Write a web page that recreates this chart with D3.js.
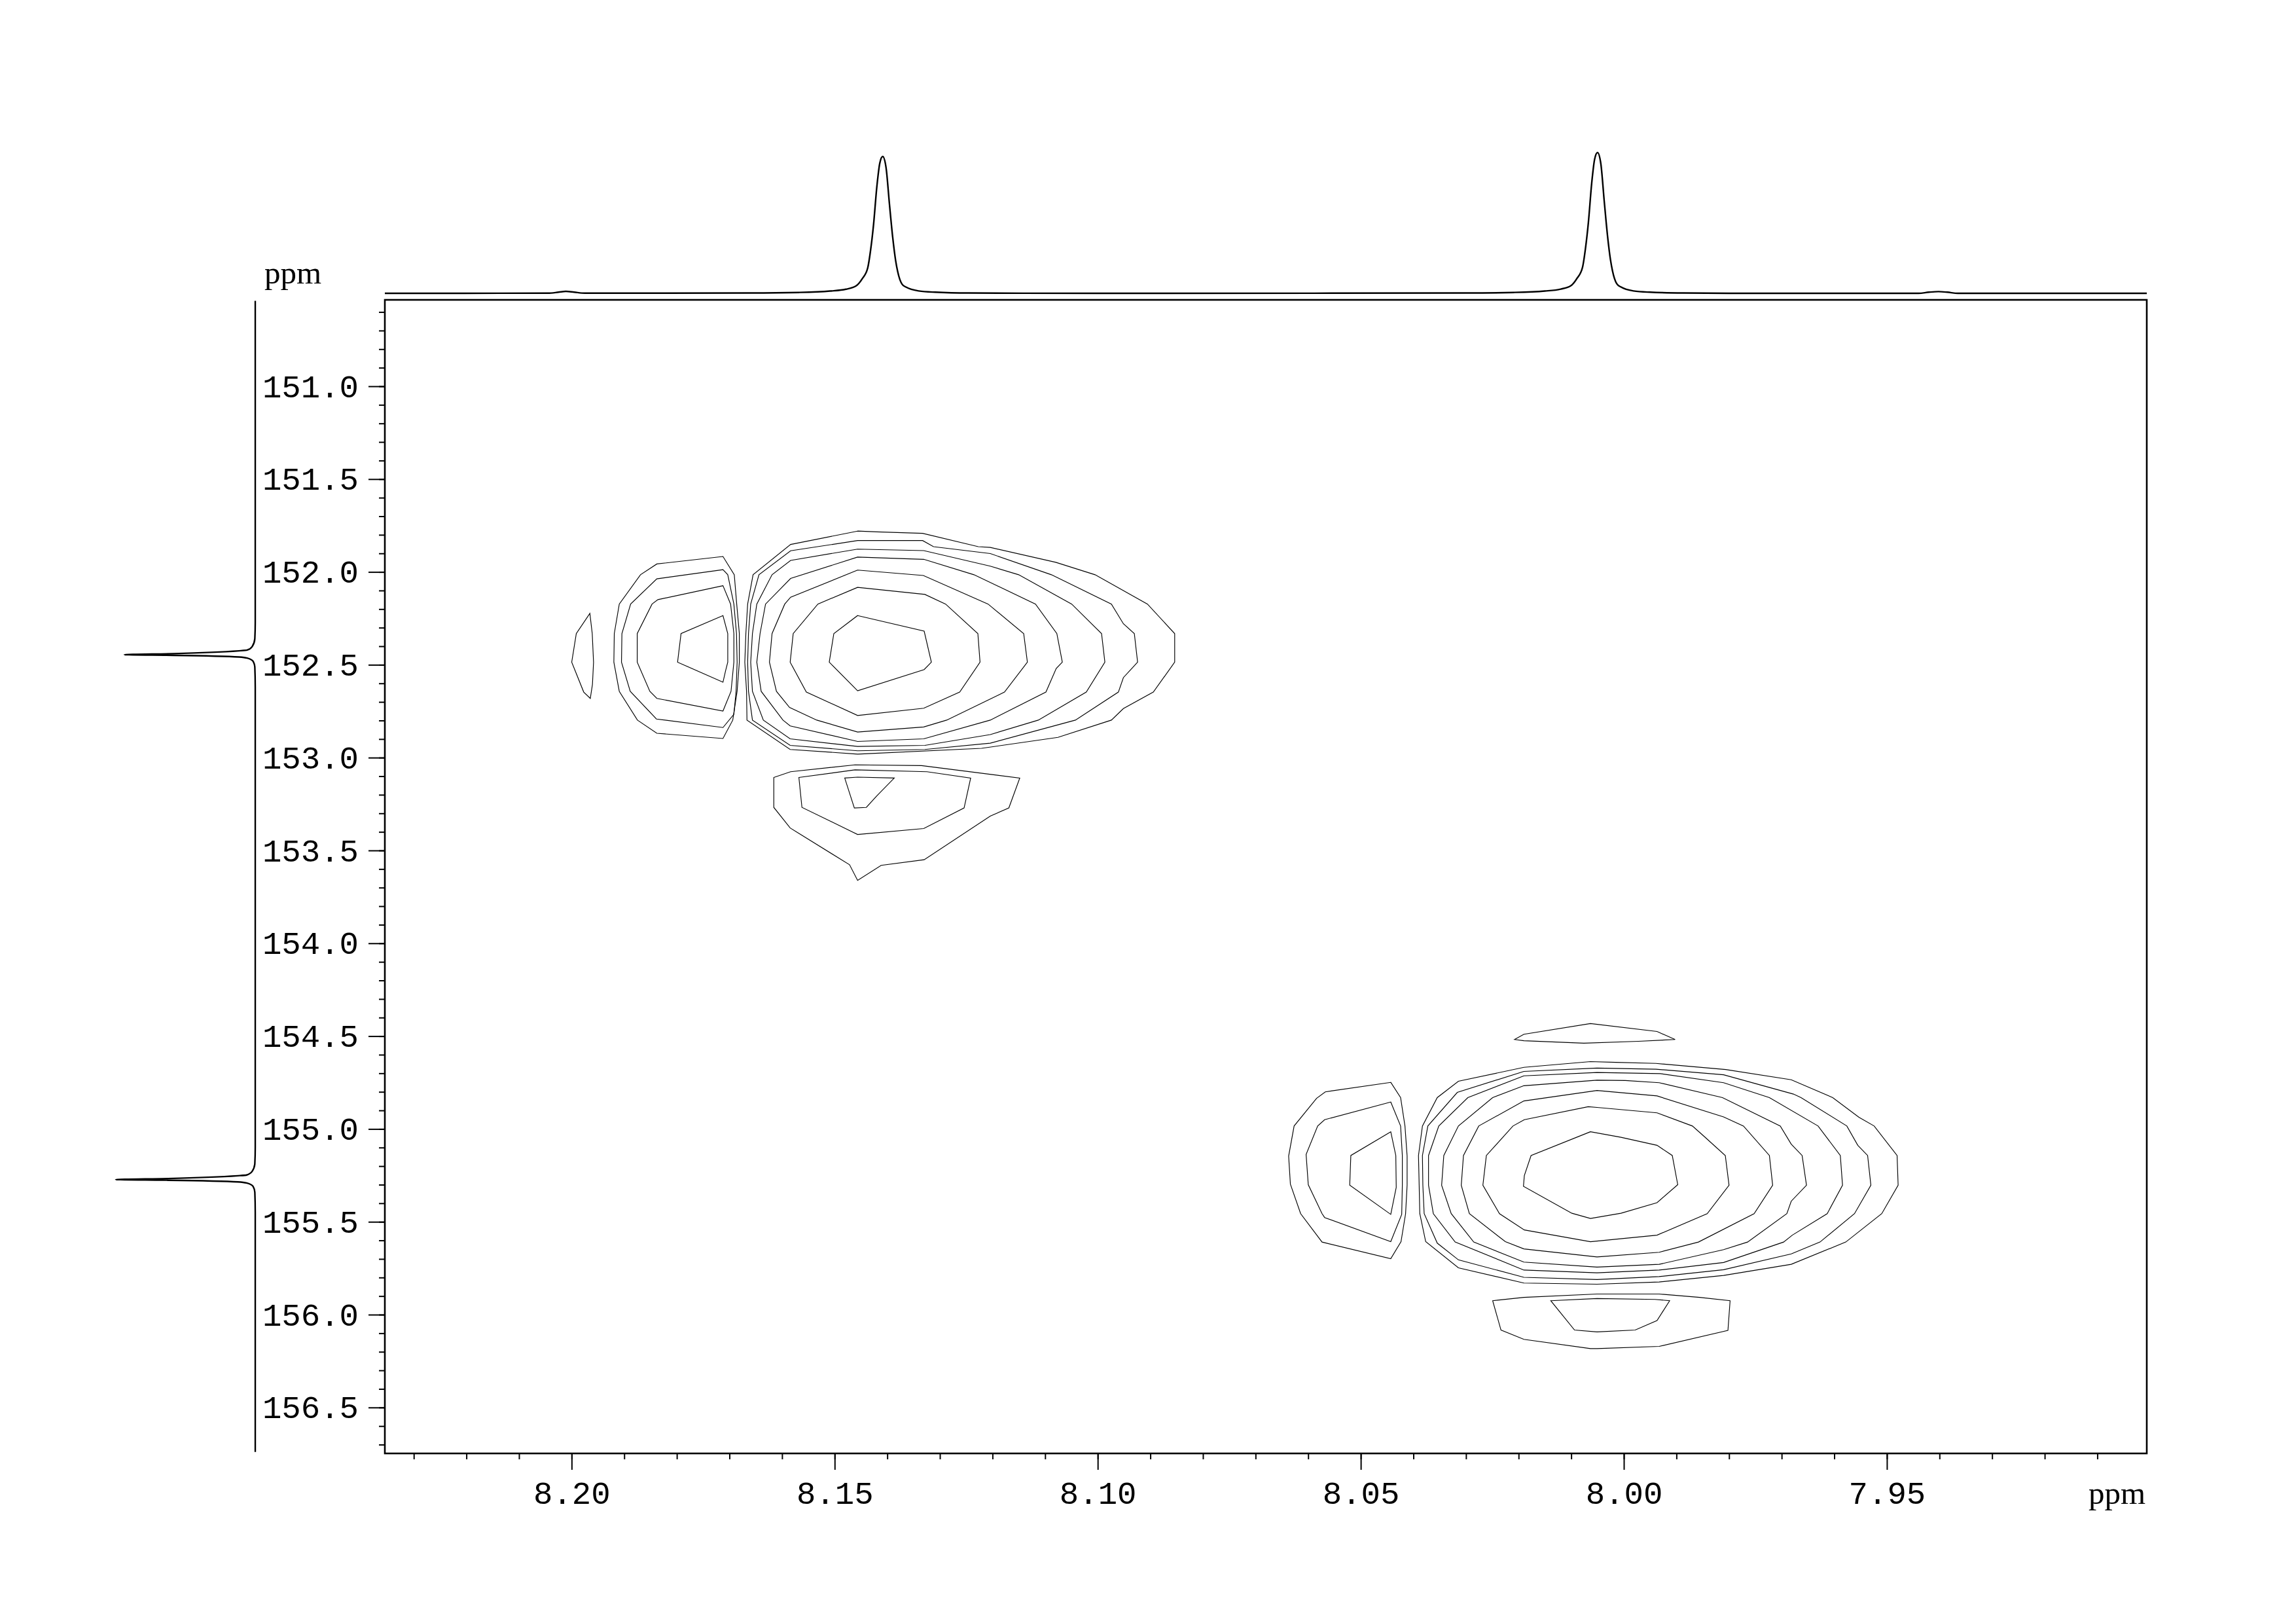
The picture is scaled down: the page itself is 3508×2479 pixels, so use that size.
<!DOCTYPE html>
<html><head><meta charset="utf-8">
<script src="https://cdn.jsdelivr.net/npm/d3@7"></script>
<style>html,body{margin:0;padding:0;background:#fff}</style>
</head><body>
<svg id="chart" width="3508" height="2479" xmlns="http://www.w3.org/2000/svg"></svg>
<script>
// ---------------- DATA ----------------
const xDomain = [8.2355, 7.9006];           // F2 (1H) ppm, reversed
const yDomain = [150.5346, 156.7475];       // F1 (13C) ppm
const xMajorTicks = [8.20, 8.15, 8.10, 8.05, 8.00, 7.95];
const xTickLabels = ["8.20", "8.15", "8.10", "8.05", "8.00", "7.95"];
const yMajorTicks = [151.0, 151.5, 152.0, 152.5, 153.0, 153.5, 154.0, 154.5, 155.0, 155.5, 156.0, 156.5];
const yTickLabels = ["151.0", "151.5", "152.0", "152.5", "153.0", "153.5", "154.0", "154.5", "155.0", "155.5", "156.0", "156.5"];
const xMinorTicks = d3.range(823, 790, -1).map(v => v / 100);
const yMinorTicks = d3.range(1506, 1568).map(v => v / 10);
const axisUnit = "ppm";

// 1D projection on top: [ppm, relative intensity]
const topTrace = [
  [8.2355, 0], [8.2045, 0.1], [8.2025, 0.8], [8.2011, 1.4], [8.1995, 0.8], [8.1975, 0.1],
  [8.16587, 0.2], [8.15687, 0.6], [8.15087, 1.6], [8.14787, 2.9], [8.14595, 5.2], [8.14475, 10.4],
  [8.14372, 18.0], [8.14317, 30.7], [8.14261, 48.8], [8.14198, 75.9], [8.14142, 92.5], [8.14087, 97.2],
  [8.14024, 89.5], [8.13960, 63.9], [8.13897, 39.8], [8.13841, 23.2], [8.13803, 15.6], [8.13721, 6.6],
  [8.13643, 4.4], [8.13404, 1.7], [8.13087, 0.8], [8.12455, 0.2], [8.1000, 0],
  [8.0300, 0.2], [8.0210, 0.6], [8.0150, 1.6], [8.0120, 3.0], [8.01008, 5.3], [8.00888, 10.7],
  [8.00785, 18.5], [8.00730, 31.6], [8.00674, 50.2], [8.00611, 78.1], [8.00555, 95.2], [8.00500, 100],
  [8.00437, 92.1], [8.00373, 65.7], [8.00310, 40.9], [8.00254, 23.9], [8.00216, 16.1], [8.00134, 6.8],
  [8.00056, 4.5], [7.99817, 1.7], [7.99500, 0.8], [7.98868, 0.2], [7.9800, 0],
  [7.9440, 0], [7.9420, 0.8], [7.9402, 1.2], [7.9385, 0.8], [7.9365, 0], [7.9006, 0]
];

// 1D projection on the left: [ppm, relative intensity]
const leftTrace = [
  [150.54, 0], [152.272, 0], [152.359, 0.3], [152.402, 2.2], [152.421, 5.8], [152.425, 11.7],
  [152.440, 58.6], [152.446, 93.8], [152.449, 58.6], [152.458, 11.7], [152.464, 5.8], [152.483, 1.4],
  [152.514, 0.3], [152.62, 0],
  [155.099, 0], [155.186, 0.3], [155.229, 2.3], [155.248, 6.2], [155.252, 12.5], [155.267, 62.5],
  [155.273, 100], [155.276, 62.5], [155.285, 12.5], [155.291, 6.2], [155.310, 1.5], [155.341, 0.3],
  [155.45, 0], [156.74, 0]
];

// contour polygons of cross peak near (8.14, 152.4): [F2 ppm, F1 ppm]
const peak1Contours = [
  [[8.19653,152.223],[8.19911,152.332],[8.19998,152.486],[8.19770,152.647],[8.19645,152.681],[8.19604,152.606],[8.19583,152.486],[8.19608,152.332]],
  [[8.17123,151.917],[8.18380,151.957],[8.18691,152.015],[8.19094,152.173],[8.19189,152.332],[8.19197,152.486],[8.19094,152.643],[8.18749,152.798],[8.18380,152.869],[8.17123,152.897],[8.16937,152.798],[8.16854,152.643],[8.16812,152.486],[8.16812,152.332],[8.16862,152.173],[8.16908,152.015]],
  [[8.17123,151.988],[8.18380,152.037],[8.18878,152.173],[8.19044,152.332],[8.19052,152.486],[8.18886,152.643],[8.18388,152.792],[8.17123,152.838],[8.16916,152.767],[8.16874,152.643],[8.16854,152.486],[8.16866,152.332],[8.16916,152.173],[8.17032,152.015]],
  [[8.17123,152.074],[8.18359,152.149],[8.18471,152.173],[8.18753,152.332],[8.18753,152.486],[8.18513,152.643],[8.18380,152.681],[8.17123,152.749],[8.16970,152.643],[8.16916,152.486],[8.16916,152.332],[8.16978,152.173]],
  [[8.17123,152.235],[8.17920,152.332],[8.17986,152.486],[8.17123,152.594],[8.17073,152.532],[8.17032,152.486],[8.17032,152.332]],
  [[8.14564,151.780],[8.15837,151.852],[8.16551,152.015],[8.16654,152.173],[8.16688,152.332],[8.16708,152.486],[8.16675,152.643],[8.16667,152.798],[8.15846,152.956],[8.14564,152.981],[8.12208,152.950],[8.10756,152.891],[8.09740,152.798],[8.09512,152.736],[8.08943,152.647],[8.08537,152.486],[8.08537,152.332],[8.09055,152.173],[8.10051,152.015],[8.10798,151.948],[8.12042,151.868],[8.12270,151.864],[8.13328,151.792],[8.14199,151.784]],
  [[8.14564,151.831],[8.15837,151.886],[8.16439,152.015],[8.16596,152.173],[8.16638,152.332],[8.16654,152.486],[8.16638,152.643],[8.16563,152.798],[8.15846,152.934],[8.14564,152.963],[8.13286,152.956],[8.12042,152.922],[8.10424,152.798],[8.09607,152.647],[8.09512,152.569],[8.09242,152.486],[8.09304,152.332],[8.09512,152.279],[8.09740,152.173],[8.10881,152.015],[8.12042,151.901],[8.13121,151.864],[8.13328,151.831]],
  [[8.14564,151.877],[8.15837,151.938],[8.16190,152.015],[8.16480,152.173],[8.16563,152.332],[8.16596,152.486],[8.16563,152.643],[8.16356,152.798],[8.15846,152.899],[8.14564,152.940],[8.13286,152.934],[8.12042,152.876],[8.11129,152.798],[8.10217,152.647],[8.09864,152.486],[8.09927,152.332],[8.10495,152.173],[8.11503,152.015],[8.12042,151.969],[8.13307,151.885]],
  [[8.14564,151.920],[8.15837,152.035],[8.16314,152.173],[8.16418,152.332],[8.16480,152.486],[8.16397,152.643],[8.15983,152.798],[8.15846,152.829],[8.14564,152.913],[8.13307,152.899],[8.12042,152.798],[8.10984,152.647],[8.10789,152.520],[8.10673,152.486],[8.10777,152.332],[8.11183,152.173],[8.12353,152.015],[8.13307,151.932]],
  [[8.14564,151.990],[8.15837,152.136],[8.15949,152.173],[8.16190,152.332],[8.16240,152.486],[8.16107,152.643],[8.15858,152.730],[8.15340,152.798],[8.14564,152.862],[8.13307,152.835],[8.12871,152.798],[8.11772,152.647],[8.11337,152.486],[8.11407,152.332],[8.12084,152.173],[8.13315,152.019]],
  [[8.14564,152.083],[8.15319,152.173],[8.15788,152.332],[8.15846,152.486],[8.15539,152.647],[8.14564,152.773],[8.13307,152.734],[8.12623,152.647],[8.12237,152.486],[8.12278,152.332],[8.12892,152.173],[8.13286,152.121]],
  [[8.14564,152.235],[8.13299,152.319],[8.13162,152.486],[8.13299,152.526],[8.14564,152.640],[8.15103,152.486],[8.15016,152.332]],
  [[8.16157,153.107],[8.15837,153.076],[8.14614,153.039],[8.13349,153.043],[8.11482,153.110],[8.11689,153.271],[8.12042,153.315],[8.13299,153.550],[8.14116,153.580],[8.14564,153.661],[8.14717,153.577],[8.15846,153.379],[8.16157,153.268]],
  [[8.15680,153.107],[8.14614,153.066],[8.13245,153.076],[8.12415,153.110],[8.12540,153.271],[8.13307,153.382],[8.14564,153.414],[8.15622,153.268]],
  [[8.14809,153.110],[8.14564,153.105],[8.13867,153.110],[8.14199,153.206],[8.14398,153.268],[8.14626,153.271]]
];

// contour polygons of cross peak near (8.005, 155.25)
const peak2Contours = [
  [[8.02078,154.518],[8.01899,154.490],[8.00634,154.432],[7.99369,154.475],[7.99025,154.518],[7.99722,154.528],[8.00759,154.538],[8.01899,154.525]],
  [[8.04430,154.749],[8.05674,154.800],[8.05840,154.835],[8.06267,154.984],[8.06371,155.146],[8.06338,155.297],[8.06143,155.456],[8.05736,155.609],[8.04430,155.699],[8.04235,155.607],[8.04148,155.456],[8.04119,155.303],[8.04119,155.146],[8.04160,154.984],[8.04243,154.831]],
  [[8.04430,154.855],[8.05687,154.950],[8.05819,154.984],[8.06039,155.137],[8.05998,155.300],[8.05736,155.456],[8.05687,155.477],[8.04430,155.607],[8.04222,155.460],[8.04210,155.303],[8.04210,155.143],[8.04243,154.984]],
  [[8.04430,155.015],[8.05189,155.143],[8.05210,155.303],[8.04430,155.460],[8.04326,155.315],[8.04334,155.143]],
  [[8.00634,154.637],[8.01899,154.668],[8.03144,154.743],[8.03546,154.831],[8.03828,154.984],[8.03903,155.143],[8.03890,155.303],[8.03878,155.456],[8.03766,155.607],[8.03144,155.748],[8.01899,155.830],[8.00510,155.836],[7.99328,155.824],[7.98104,155.789],[7.96818,155.729],[7.95781,155.609],[7.95097,155.456],[7.94786,155.303],[7.94806,155.143],[7.95242,154.984],[7.95532,154.937],[7.96030,154.831],[7.96818,154.735],[7.98063,154.680],[7.99390,154.647],[8.00157,154.641]],
  [[8.01899,154.690],[8.03165,154.803],[8.03725,154.984],[8.03828,155.143],[8.03820,155.303],[8.03795,155.456],[8.03546,155.615],[8.03144,155.705],[8.01899,155.799],[8.00510,155.811],[7.99328,155.795],[7.98104,155.758],[7.96818,155.673],[7.96271,155.609],[7.95615,155.456],[7.95304,155.303],[7.95366,155.143],[7.95553,155.088],[7.95761,154.984],[7.96632,154.831],[7.96777,154.812],[7.98104,154.708],[7.99390,154.678],[8.00510,154.672]],
  [[8.01899,154.714],[8.02965,154.831],[8.03517,154.984],[8.03712,155.143],[8.03712,155.303],[8.03621,155.456],[8.03206,155.609],[8.01899,155.760],[8.00510,155.775],[7.99328,155.760],[7.98104,155.719],[7.96963,155.609],[7.96798,155.572],[7.96134,155.456],[7.95843,155.303],[7.95885,155.143],[7.96308,154.984],[7.97233,154.831],[7.98104,154.751],[7.99307,154.702],[8.00510,154.696]],
  [[8.01899,154.767],[8.02493,154.831],[8.03144,154.984],[8.03422,155.143],[8.03463,155.303],[8.03281,155.456],[8.02853,155.609],[8.01899,155.717],[8.00510,155.744],[7.99328,155.729],[7.98104,155.650],[7.97648,155.609],[7.96901,155.456],[7.96818,155.389],[7.96528,155.303],[7.96611,155.143],[7.96818,155.082],[7.97026,154.984],[7.98125,154.831],[7.99328,154.751],[7.99971,154.739],[8.00510,154.737]],
  [[8.01899,154.849],[8.02758,154.984],[8.03048,155.143],[8.03090,155.303],[8.02936,155.456],[8.02252,155.607],[8.01899,155.646],[8.00510,155.689],[7.99328,155.664],[7.98581,155.609],[7.97523,155.456],[7.97171,155.303],[7.97233,155.143],[7.97726,154.984],[7.98104,154.935],[7.99369,154.822],[8.00510,154.793]],
  [[8.01891,154.950],[8.02107,154.984],[8.02613,155.143],[8.02679,155.303],[8.02364,155.456],[8.01891,155.544],[8.00634,155.607],[7.99369,155.572],[7.98415,155.456],[7.98000,155.303],[7.98071,155.143],[7.98477,155.039],[7.98697,154.984],[7.99369,154.913],[8.00510,154.884],[8.00676,154.880]],
  [[8.00634,155.015],[8.01763,155.143],[8.01891,155.251],[8.01908,155.309],[8.00987,155.454],[8.00634,155.482],[8.00054,155.454],[7.99369,155.397],[7.98975,155.300],[7.99079,155.143],[7.99369,155.088],[8.00054,155.045]],
  [[8.02493,155.925],[8.01899,155.907],[8.00510,155.889],[7.99328,155.889],[7.98560,155.907],[7.97980,155.925],[7.98021,156.085],[7.99328,156.171],[8.00510,156.183],[8.00634,156.183],[8.01899,156.133],[8.02335,156.083]],
  [[8.01389,155.925],[8.00510,155.913],[7.99411,155.918],[7.99129,155.925],[7.99369,156.032],[7.99784,156.083],[8.00510,156.093],[8.00937,156.083]]
];

// ---------------- LAYOUT ----------------
const frame = { left: 588, right: 3280, top: 458, bottom: 2220 };
const topBase = 448, topPeak = 233;      // projection above the frame
const leftBase = 390, leftPeak = 176.7;  // projection left of the axis
const monoFont = "'Liberation Mono', 'DejaVu Sans Mono', monospace";
const serifFont = "'Liberation Serif', 'DejaVu Serif', serif";

const svg = d3.select("#chart");
svg.append("rect").attr("width", 3508).attr("height", 2479).attr("fill", "#fff");

const x = d3.scaleLinear().domain(xDomain).range([frame.left, frame.right]);
const y = d3.scaleLinear().domain(yDomain).range([frame.top, frame.bottom]);
const topI = d3.scaleLinear().domain([0, 100]).range([topBase, topPeak]);
const leftI = d3.scaleLinear().domain([0, 100]).range([leftBase, leftPeak]);

// contours
const contourLine = d3.line().x(d => x(d[0])).y(d => y(d[1])).curve(d3.curveLinearClosed);
svg.append("g")
  .selectAll("path")
  .data(peak1Contours.concat(peak2Contours))
  .join("path")
  .attr("d", contourLine)
  .attr("fill", "none")
  .attr("stroke", "#000")
  .attr("stroke-width", 1.15);

// frame
svg.append("rect")
  .attr("x", frame.left).attr("y", frame.top)
  .attr("width", frame.right - frame.left).attr("height", frame.bottom - frame.top)
  .attr("fill", "none").attr("stroke", "#000").attr("stroke-width", 2.6);

// x axis
function styleAxis(g) {
  g.select(".domain").remove();
  g.selectAll(".tick line").attr("stroke", "#000").attr("stroke-width", 2);
}
svg.append("g").attr("transform", `translate(0,${frame.bottom})`)
  .call(d3.axisBottom(x).tickValues(xMinorTicks).tickSize(9).tickFormat(""))
  .call(styleAxis);
const xAx = svg.append("g").attr("transform", `translate(0,${frame.bottom})`)
  .call(d3.axisBottom(x).tickValues(xMajorTicks).tickSize(25)
    .tickFormat((d, i) => xTickLabels[i]))
  .call(styleAxis);
xAx.selectAll("text").attr("y", 77).attr("dy", null)
  .attr("font-family", monoFont).attr("font-size", 49).attr("fill", "#000");

// y axis
svg.append("g").attr("transform", `translate(${frame.left},0)`)
  .call(d3.axisLeft(y).tickValues(yMinorTicks).tickSize(9).tickFormat(""))
  .call(styleAxis);
const yAx = svg.append("g").attr("transform", `translate(${frame.left},0)`)
  .call(d3.axisLeft(y).tickValues(yMajorTicks).tickSize(25).tickPadding(15)
    .tickFormat((d, i) => yTickLabels[i]))
  .call(styleAxis);
yAx.selectAll("text").attr("dy", "0.33em")
  .attr("font-family", monoFont).attr("font-size", 49).attr("fill", "#000");

// axis unit labels
svg.append("text").attr("x", frame.right - 2).attr("y", 2297)
  .attr("text-anchor", "end").attr("font-family", serifFont).attr("font-size", 49)
  .text(axisUnit);
svg.append("text").attr("x", 404).attr("y", 433)
  .attr("text-anchor", "start").attr("font-family", serifFont).attr("font-size", 49)
  .text(axisUnit);

// 1D projections
const topLine = d3.line().x(d => x(d[0])).y(d => topI(d[1])).curve(d3.curveMonotoneX);
svg.append("path").datum(topTrace).attr("d", topLine)
  .attr("fill", "none").attr("stroke", "#000").attr("stroke-width", 2.4)
  .attr("stroke-linejoin", "round");

const leftLine = d3.line().x(d => leftI(d[1])).y(d => y(d[0])).curve(d3.curveMonotoneY);
svg.append("path").datum(leftTrace).attr("d", leftLine)
  .attr("fill", "none").attr("stroke", "#000").attr("stroke-width", 2.4)
  .attr("stroke-linejoin", "round");
</script>
</body></html>
